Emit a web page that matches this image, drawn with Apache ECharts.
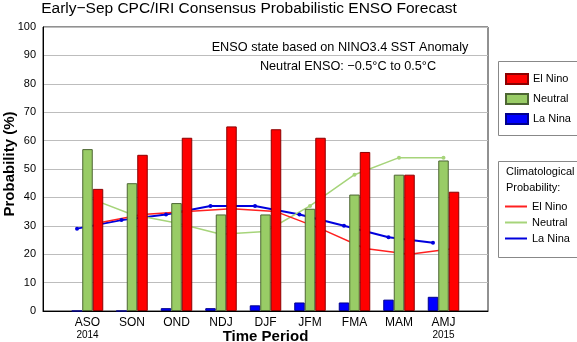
<!DOCTYPE html>
<html><head><meta charset="utf-8">
<script src="https://cdn.jsdelivr.net/npm/echarts@6/dist/echarts.min.js"></script>
<style>html,body{margin:0;padding:0;background:#fff}#c{width:577px;height:342px}</style>
</head><body><div id="c"></div>
<script>
const categories = ['ASO','SON','OND','NDJ','DJF','JFM','FMA','MAM','AMJ'];
const yearLabels = ['2014','','','','','','','','2015'];
const elNino  = [43,55,61,65,64,61,56,48,42];
const neutral = [57,45,38,34,34,36,41,48,53];
const laNina  = [0,0,1,1,2,3,3,4,5];
const climElNino  = [31,34,35,36,35,29,22,20,22];
const climNeutral = [40,34,31,27,28,37,48,54,54];
const climLaNina  = [29,32,34,37,37,34,30,26,24];

const FONT = 'Liberation Sans, Arial, Helvetica, sans-serif';
const pad = a => [null, ...a, null];
const axisCats = ['', ...categories, ''];
const BW = 10.5;
const G = {top: 27, width: 445, height: 284, left: 43};

function xAx(gi, show) {
  return {
    type: 'category', gridIndex: gi, data: axisCats, boundaryGap: false, show: show,
    axisLine: {show: show, lineStyle: {color: '#000', width: 1}},
    axisTick: {show: false},
    splitLine: {show: false},
    axisLabel: {
      show: show, interval: 0, margin: 5,
      formatter: (v, i) => {
        if (!v) return '';
        const y = yearLabels[i - 1];
        return '{a|' + v + '}' + (y ? '\n{b|' + y + '}' : '');
      },
      rich: {
        a: {fontSize: 12, fontFamily: FONT, color: '#000', lineHeight: 14},
        b: {fontSize: 10, fontFamily: FONT, color: '#000', lineHeight: 11}
      }
    },
    name: show ? 'Time Period' : '', nameLocation: 'middle', nameGap: 18, nameMoveOverlap: false,
    nameTextStyle: {fontSize: 15, fontWeight: 'bold', fontFamily: FONT, color: '#000'}
  };
}
function yAx(gi, show) {
  return {
    type: 'value', gridIndex: gi, min: 0, max: 100, interval: 10, show: show,
    axisLine: {show: show, lineStyle: {color: '#000'}},
    axisTick: {show: false},
    splitLine: {show: show, lineStyle: {color: '#bdbdbd', width: 1}},
    axisLabel: {show: show, fontSize: 11, fontFamily: FONT, color: '#000', margin: 7}
  };
}
function lineS(name, data, color, gi, w) {
  return {
    type: 'line', name: name, data: pad(data), xAxisIndex: gi, yAxisIndex: gi,
    z: 1, symbol: 'circle', symbolSize: 4, showSymbol: true,
    lineStyle: {color: color, width: w}, itemStyle: {color: color},
    connectNulls: false
  };
}
function barS(name, data, color, border) {
  return {
    type: 'bar', name: name, data: pad(data), xAxisIndex: 0, yAxisIndex: 0,
    z: 3, barWidth: BW, barGap: '0%',
    itemStyle: {color: color, borderColor: border, borderWidth: 1}
  };
}
function grid(left, show) {
  return {left: left, top: G.top, width: G.width, height: G.height, outerBoundsMode: 'none', containLabel: false,
    show: show, borderColor: '#222', borderWidth: 1, backgroundColor: 'transparent'};
}

const chart = echarts.init(document.getElementById('c'), null, {renderer: 'canvas'});
chart.setOption({
  animation: false,
  backgroundColor: '#fff',
  title: {
    text: 'Early\u2212Sep CPC/IRI Consensus Probabilistic ENSO Forecast',
    left: 249, top: 1, textAlign: 'center', padding: 0,
    textStyle: {fontSize: 15.5, fontWeight: 'normal', fontFamily: FONT, color: '#000'}
  },
  grid: [grid(G.left, true), grid(G.left - BW, false), grid(G.left + BW, false)],
  xAxis: [xAx(0, true), xAx(1, false), xAx(2, false)],
  yAxis: [yAx(0, true), yAx(1, false), yAx(2, false)],
  legend: [
    {
      data: ['El Nino', 'Neutral', 'La Nina'], orient: 'vertical', left: 505, top: 73, padding: 0,
      itemWidth: 22, itemHeight: 10, itemGap: 8, icon: 'rect', selectedMode: false,
      textStyle: {fontSize: 11, fontFamily: FONT, color: '#000'}
    },
    {
      data: ['El Nino clim', 'Neutral clim', 'La Nina clim'], orient: 'vertical', left: 505, top: 201, padding: 0,
      itemWidth: 22, itemHeight: 2, itemGap: 5, icon: 'rect', selectedMode: false,
      formatter: n => n.replace(' clim', ''),
      textStyle: {fontSize: 11, fontFamily: FONT, color: '#000'}
    }
  ],
  graphic: [
    {type: 'rect', shape: {x: 498.5, y: 61.5, width: 90, height: 74}, style: {fill: 'none', stroke: '#888', lineWidth: 1}, z: 0},
    {type: 'rect', shape: {x: 498.5, y: 161.5, width: 90, height: 96}, style: {fill: 'none', stroke: '#888', lineWidth: 1}, z: 0},
    {type: 'text', x: 506, y: 172, style: {text: 'Climatological', font: '11px ' + FONT, fill: '#000', verticalAlign: 'middle'}},
    {type: 'text', x: 506, y: 188, style: {text: 'Probability:', font: '11px ' + FONT, fill: '#000', verticalAlign: 'middle'}},
    {type: 'text', x: 340, y: 47, style: {text: 'ENSO state based on NINO3.4 SST Anomaly', font: '12.7px ' + FONT, fill: '#000', align: 'center', verticalAlign: 'middle'}},
    {type: 'text', x: 348, y: 66, style: {text: 'Neutral ENSO: \u22120.5\u00B0C to 0.5\u00B0C', font: '12.7px ' + FONT, fill: '#000', align: 'center', verticalAlign: 'middle'}},
    {type: 'text', x: 10, y: 164, rotation: Math.PI / 2, style: {text: 'Probability (%)', font: 'bold 15px ' + FONT, fill: '#000', align: 'center', verticalAlign: 'middle'}}
  ],
  series: [
    lineS('La Nina clim', climLaNina, '#0000dd', 1, 2),
    lineS('Neutral clim', climNeutral, '#a6d47a', 0, 1.5),
    lineS('El Nino clim', climElNino, '#ff2020', 2, 1.5),
    barS('La Nina', laNina, '#0000ff', '#00008b'),
    barS('Neutral', neutral, '#99cc66', '#4d6633'),
    barS('El Nino', elNino, '#ff0000', '#8b0000')
  ]
});
</script></body></html>
